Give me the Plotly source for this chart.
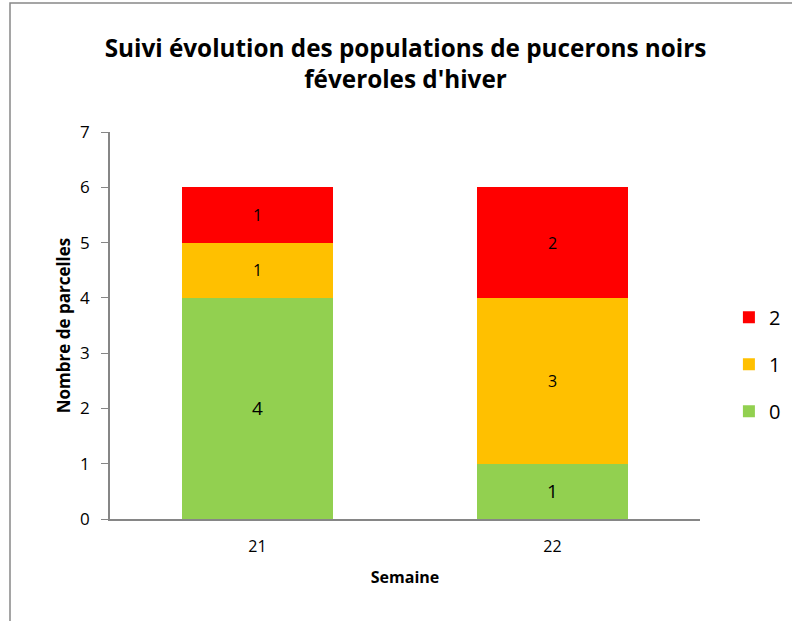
import plotly.graph_objects as go

weeks = ["21", "22"]
series_names = ["0", "1", "2"]
values_0 = [4, 1]
values_1 = [1, 3]
values_2 = [1, 2]
colors = ["#92D050", "#FFC000", "#FF0000"]
legend_ranks = [3, 2, 1]
title_text = "Suivi évolution des populations de pucerons noirs<br>féveroles d'hiver"
y_ticks = [0, 1, 2, 3, 4, 5, 6, 7]

FONT = "Open Sans"
W, H = 792, 621
L, T, PW, PH = 110, 132, 590, 387

fig = go.Figure()
for name, vals, col, tsize, rank in zip(series_names, [values_0, values_1, values_2], colors,
                                        [19, 16, 16], legend_ranks):
    fig.add_trace(go.Bar(
        x=weeks, y=vals, name=name, legendgroup=name, legendrank=rank,
        marker=dict(color=col, line=dict(width=0)),
        text=[str(v) for v in vals], textposition="inside",
        insidetextanchor="middle",
        textfont=dict(family=FONT, size=tsize, color="black"),
        constraintext="none",
        hoverinfo="skip",
    ))

fig.update_layout(
    width=W, height=H,
    barmode="stack", bargap=0.485,
    paper_bgcolor="white", plot_bgcolor="white",
    margin=dict(l=L, r=W - L - PW, t=T, b=H - T - PH, autoexpand=False),
    font=dict(family=FONT, color="black"),
    title=dict(text="<b>" + title_text + "</b>", x=0.512, xanchor="center",
               y=0.909, yanchor="middle",
               font=dict(family=FONT, size=24.3, color="black")),
    showlegend=True,
    legend=dict(traceorder="grouped", tracegroupgap=18,
                x=1.049, xanchor="left", y=0.40, yanchor="middle",
                font=dict(family=FONT, size=20, color="black"),
                itemwidth=30, bgcolor="rgba(0,0,0,0)"),
    xaxis=dict(type="category", showline=True, linecolor="#868686", linewidth=1.5,
               ticks="", showgrid=False, tickfont=dict(family=FONT, size=16),
               ticklabelstandoff=12,
               title=dict(text="<b>Semaine</b>", font=dict(family=FONT, size=16), standoff=16)),
    yaxis=dict(range=[0, 7], tickvals=y_ticks, showline=True, linecolor="#868686",
               linewidth=1.5, ticks="outside", ticklen=7, tickcolor="#868686",
               ticklabelstandoff=8,
               showgrid=False, zeroline=False, tickfont=dict(family=FONT, size=17),
               title=dict(text="<b>Nombre de parcelles</b>", font=dict(family=FONT, size=17), standoff=5)),
    shapes=[dict(type="rect", xref="paper", yref="paper",
                 x0=(10 - L) / PW, x1=1.5, y0=-0.5, y1=(T + PH - 3) / PH,
                 line=dict(color="#888888", width=1.5), fillcolor="rgba(0,0,0,0)", layer="below")],
)

fig.write_html("out.html", config={"displayModeBar": False},
               post_script="document.body.style.margin='0';document.body.style.overflow='hidden';")
